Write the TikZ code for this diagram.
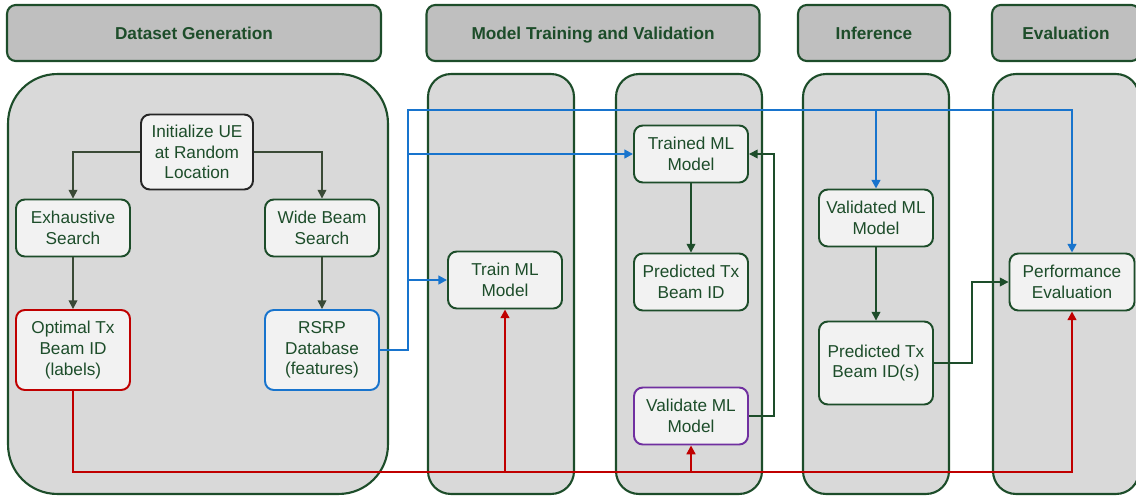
\documentclass[tikz,border=0pt]{standalone}
\usepackage{fontspec}
\setmainfont{Liberation Sans}
\usepackage{xcolor}
\usetikzlibrary{arrows.meta,positioning,calc}

\definecolor{dkgreen}{HTML}{1D4D2A}
\definecolor{olive}{HTML}{3A4A36}
\definecolor{flowblue}{HTML}{1874CD}
\definecolor{flowred}{HTML}{C00000}
\definecolor{flowpurple}{HTML}{7030A0}

\begin{document}
\begin{tikzpicture}[
  x=0.02cm, y=-0.02cm,
  >={Triangle[length=5pt,width=5pt]},
  header/.style={draw=dkgreen, line width=1.2pt, fill=black!25, rounded corners=5pt,
                 minimum height=1.12cm, text=dkgreen, text height=1.6ex, text depth=0.3ex,
                 font=\fontsize{9.8}{11.8}\selectfont\bfseries},
  panel/.style={draw=dkgreen, line width=1.2pt, fill=black!15, rounded corners=13pt,
                minimum height=8.4cm, minimum width=2.92cm},
  box/.style={draw=dkgreen, line width=1.1pt, fill=black!5, rounded corners=5pt,
              minimum width=2.28cm, minimum height=1.14cm, align=center,
              text=dkgreen, font=\fontsize{9.8}{11.8}\selectfont},
  tallbox/.style={box, minimum height=1.6cm},
  darr/.style={->, olive, line width=0.9pt},
  garr/.style={->, dkgreen, line width=0.9pt},
  barr/.style={->, flowblue, line width=1.2pt},
  rarr/.style={->, flowred, line width=1.2pt},
]
\useasboundingbox (0,0) rectangle (1136,497);

% stage headers
\node[header, minimum width=7.48cm] (H1) at (194,33) {Dataset Generation};
\node[header, minimum width=6.66cm] (H2) at (593,33) {Model Training and Validation};
\node[header, minimum width=3.04cm] (H3) at (874,33) {Inference};
\node[header, minimum width=2.96cm] (H4) at (1066,33) {Evaluation};

% stage panels
\node[panel, minimum width=7.6cm, rounded corners=28pt] (P1) at (198,284) {};
\node[panel] (P2) at (501,284) {};
\node[panel] (P3) at (689,284) {};
\node[panel] (P4) at (876,284) {};
\node[panel] (P5) at (1066,284) {};

% dataset generation
\node[box, draw=black!85, minimum width=2.24cm, minimum height=1.5cm] (init) at (197,152) {Initialize UE\\at Random\\Location};
\node[box] (exh) at (73,228) {Exhaustive\\Search};
\node[box] (wide) at (322,228) {Wide Beam\\Search};
\node[tallbox, draw=flowred] (opt) at (73,350) {Optimal Tx\\Beam ID\\(labels)};
\node[tallbox, draw=flowblue] (rsrp) at (322,350) {RSRP\\Database\\(features)};

% training and validation
\node[box] (train) at (505,280) {Train ML\\Model};
\node[box] (trained) at (691,154) {Trained ML\\Model};
\node[box] (pred) at (691,282) {Predicted Tx\\Beam ID};
\node[box, draw=flowpurple] (validate) at (691,416) {Validate ML\\Model};

% inference
\node[box] (validated) at (876,218) {Validated ML\\Model};
\node[tallbox, minimum height=1.66cm] (pred2) at (876,363) {Predicted Tx\\Beam ID(s)};

% evaluation
\node[box, minimum width=2.5cm] (perf) at (1072,282) {Performance\\Evaluation};

\draw[darr] (init.west) -| (exh.north);
\draw[darr] (init.east) -| (wide.north);
\draw[darr] (exh) -- (opt);
\draw[darr] (wide) -- (rsrp);

\draw[garr] (trained) -- (pred);
\draw[garr] (validate.east) -- ++(25,0) |- (trained.east);
\draw[garr] (validated) -- (pred2);
\draw[garr] (pred2.east) -- ++(38,0) |- (perf.west);

% features (blue)
\coordinate (bj) at (408,110);
\draw[barr] (rsrp.east) -| (bj) -| (perf.north);
\draw[barr] (bj -| validated.north) -- (validated.north);
\draw[barr] (bj |- trained.west) -- (trained.west);
\draw[barr] (bj |- train.west) -- (train.west);

% labels (red)
\coordinate (rj) at (0,472);
\draw[rarr] (opt.south) -- (opt.south |- rj) -| (perf.south);
\draw[rarr] (train.south |- rj) -- (train.south);
\draw[rarr] (validate.south |- rj) -- (validate.south);
\end{tikzpicture}
\end{document}
